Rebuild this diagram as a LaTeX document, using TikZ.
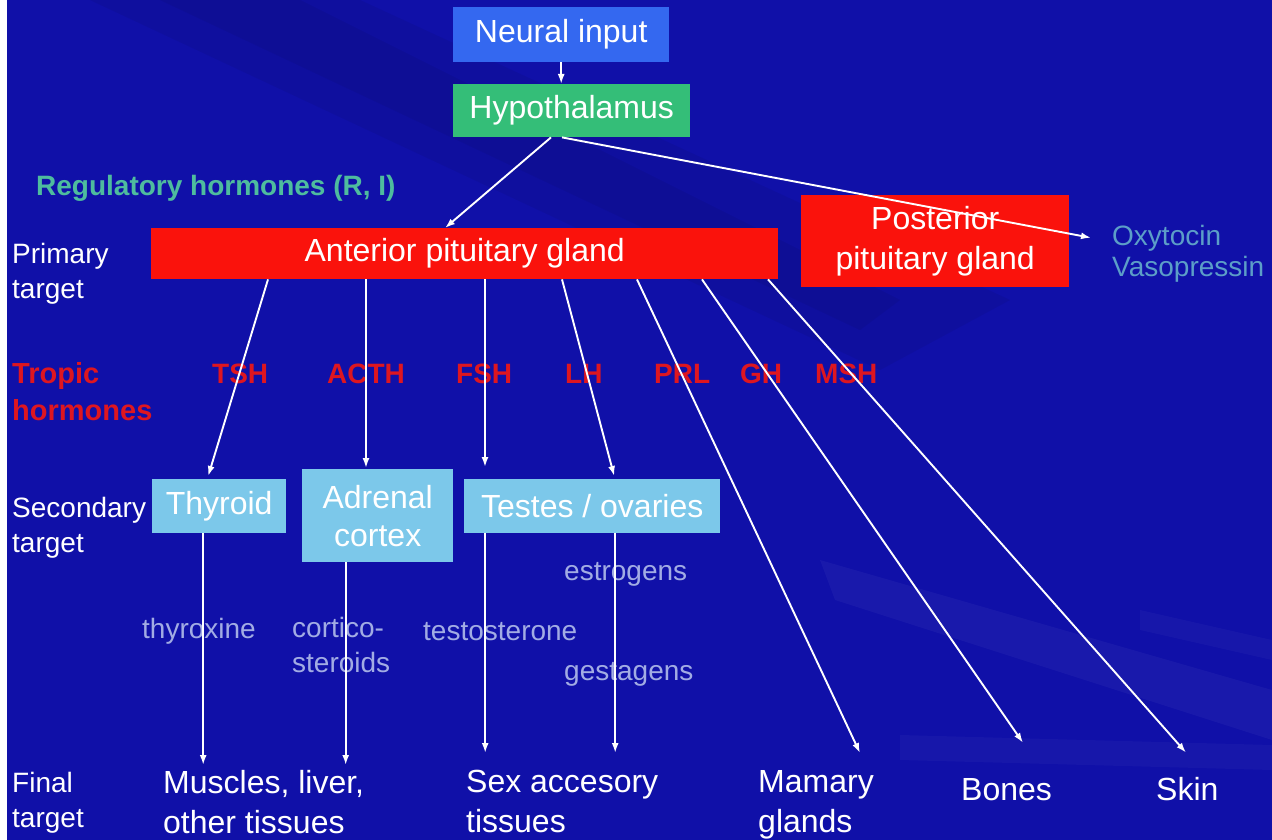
\documentclass[tikz,border=0pt]{standalone}
\usepackage{fontspec}
\usetikzlibrary{arrows.meta}
\setmainfont{Liberation Sans}
\definecolor{bgblue}{RGB}{16,16,168}
\definecolor{neuralblue}{RGB}{52,104,240}
\definecolor{hypogreen}{RGB}{52,190,120}
\definecolor{glandred}{RGB}{250,18,12}
\definecolor{targetblue}{RGB}{124,200,234}
\definecolor{regteal}{RGB}{78,188,158}
\definecolor{oxyblue}{RGB}{92,158,200}
\definecolor{tropred}{RGB}{222,22,32}
\definecolor{prodgray}{RGB}{162,172,228}
\begin{document}
\begin{tikzpicture}[x=1pt,y=-1pt,>={Latex[length=10pt,width=7pt]},
    box/.style={anchor=north west,inner sep=0pt,text=white,align=center,
        font=\fontsize{32}{38}\selectfont},
    lbl/.style={anchor=north west,inner sep=0pt,text=white,align=left,
        font=\fontsize{28}{35}\selectfont},
    tropic/.style={anchor=base west,inner sep=0pt,text=tropred,
        font=\bfseries\fontsize{28}{35}\selectfont},
    prod/.style={anchor=base west,inner sep=0pt,text=prodgray,align=left,
        font=\fontsize{28}{35}\selectfont},
    final/.style={anchor=north west,inner sep=0pt,text=white,align=left,
        font=\fontsize{32}{40}\selectfont},
    arr/.style={->,draw=white,line width=1.9pt}]

    % background
    \fill[bgblue] (0,0) rectangle (1272,840);
    \fill[black,opacity=0.06] (90,0) -- (360,0) -- (1010,300) -- (880,370) -- cycle;
    \fill[black,opacity=0.05] (160,0) -- (300,0) -- (900,300) -- (860,330) -- cycle;
    \fill[white,opacity=0.04] (820,560) -- (835,600) -- (1272,740) -- (1272,690) -- cycle;
    \fill[white,opacity=0.03] (900,735) -- (1272,745) -- (1272,770) -- (900,760) -- cycle;
    \fill[white,opacity=0.03] (1140,610) -- (1272,640) -- (1272,660) -- (1140,630) -- cycle;
    \fill[white] (0,0) rectangle (7,840);

    % boxes
    \node[box,fill=neuralblue,minimum width=216pt,minimum height=55pt] (neural) at (453,7) {Neural input};
    \node[box,fill=hypogreen,minimum width=237pt,minimum height=53pt] (hypo) at (453,84) {Hypothalamus};
    \node[box,fill=glandred,minimum width=627pt,minimum height=51pt] (ant) at (151,228) {Anterior pituitary gland};
    \node[box,fill=glandred,minimum width=268pt,minimum height=92pt,
        font=\fontsize{32}{40}\selectfont] (post) at (801,195) {Posterior\\pituitary gland};
    \node[box,fill=targetblue,minimum width=134pt,minimum height=54pt] (thy) at (152,479) {Thyroid};
    \node[box,fill=targetblue,minimum width=151pt,minimum height=93pt] (adr) at (302,469) {Adrenal\\cortex};
    \node[box,fill=targetblue,minimum width=256pt,minimum height=54pt] (tes) at (464,479) {Testes / ovaries};

    % texts
    \node[anchor=base west,inner sep=0pt,text=regteal,font=\bfseries\fontsize{28}{34}\selectfont]
        (reg) at (36,195) {Regulatory hormones (R, I)};
    \node[anchor=base west,inner sep=0pt,text=oxyblue,font=\fontsize{28}{34}\selectfont] (oxy) at (1112,245) {Oxytocin};
    \node[anchor=base west,inner sep=0pt,text=oxyblue,font=\fontsize{28}{34}\selectfont] (vaso) at (1112,276) {Vasopressin};

    \node[lbl] (prim) at (12,243) {Primary\\target};
    \node[lbl,text=tropred,font=\bfseries\fontsize{29}{37}\selectfont] (trop) at (12,362) {Tropic\\hormones};
    \node[lbl] (sec) at (12,497) {Secondary\\target};
    \node[lbl] (fin) at (12,772) {Final\\target};

    \node[tropic] (tsh) at (212,383) {TSH};
    \node[tropic] (acth) at (327,383) {ACTH};
    \node[tropic] (fsh) at (456,383) {FSH};
    \node[tropic] (lh) at (565,383) {LH};
    \node[tropic] (prl) at (654,383) {PRL};
    \node[tropic] (gh) at (740,383) {GH};
    \node[tropic] (msh) at (815,383) {MSH};

    \node[prod] (thyrox) at (142,638) {thyroxine};
    \node[prod] (cort) at (292,672) {cortico-\\steroids};
    \node[prod] (testo) at (423,640) {testosterone};
    \node[prod] (estro) at (564,580) {estrogens};
    \node[prod] (gesta) at (564,680) {gestagens};

    \node[final] (mus) at (163,770) {Muscles, liver,\\other tissues};
    \node[final] (sex) at (466,770) {Sex accesory\\tissues};
    \node[final] (mam) at (758,770) {Mamary\\glands};
    \node[anchor=base west,inner sep=0pt,text=white,font=\fontsize{32}{40}\selectfont] (bones) at (961,800) {Bones};
    \node[anchor=base west,inner sep=0pt,text=white,font=\fontsize{32}{40}\selectfont] (skin) at (1156,800) {Skin};

    % connectors
    \draw[arr] (neural.south) -- (neural.south |- hypo.north);
    \draw[arr] ([xshift=98pt]hypo.south west) -- ([xshift=294pt]ant.north west);
    \draw[arr] ([xshift=109pt]hypo.south west) -- ([xshift=-21pt]oxy.west);

    \draw[arr] ([xshift=117pt]ant.south west) -- ([xshift=-11pt,yshift=3pt]thy.north);
    \draw[arr] ([xshift=215pt]ant.south west) -- ([xshift=215pt,yshift=1pt]ant.south west |- adr.north);
    \draw[arr] ([xshift=334pt]ant.south west) -- ([xshift=334pt,yshift=12pt]ant.south west |- tes.north);
    \draw[arr] ([xshift=411pt]ant.south west) -- ([xshift=22pt,yshift=3pt]tes.north);
    \draw[arr] ([xshift=486pt]ant.south west) -- ([xshift=102pt,yshift=17pt]mam.north west);
    \draw[arr] ([xshift=551pt]ant.south west) -- ([xshift=62pt,yshift=35pt]bones.north west);
    \draw[arr] ([xshift=617pt]ant.south west) -- ([xshift=30pt,yshift=24pt]skin.north west);

    \draw[arr] ([xshift=-16pt]thy.south) -- ([xshift=-16pt,yshift=5pt]thy.south |- mus.north);
    \draw[arr] ([xshift=-32pt]adr.south) -- ([xshift=-32pt,yshift=5pt]adr.south |- mus.north);
    \draw[arr] ([xshift=-107pt]tes.south) -- ([xshift=-107pt,yshift=17pt]tes.south |- sex.north);
    \draw[arr] ([xshift=23pt]tes.south) -- ([xshift=23pt,yshift=17pt]tes.south |- sex.north);
\end{tikzpicture}
\end{document}
